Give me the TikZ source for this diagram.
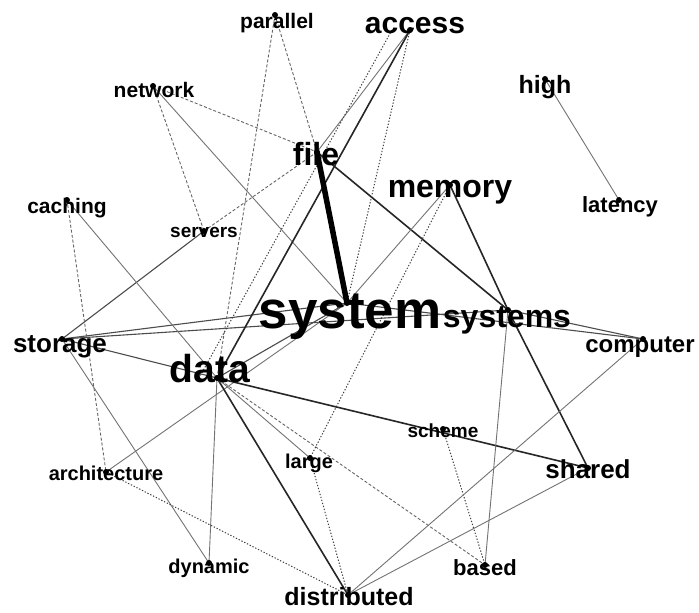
\documentclass[tikz,border=0pt]{standalone}
\usepackage{fontspec}
\setmainfont{Liberation Sans}
\begin{document}
\begin{tikzpicture}[x=1pt,y=-1pt,
  word/.style={anchor=base,inner sep=0pt,text=black},
  thickedge/.style={line width=5.5pt,black},
  darkedge/.style={line width=1.6pt,black!85},
  midedge/.style={line width=1.1pt,black!70},
  thinedge/.style={line width=0.9pt,black!55},
  dashedge/.style={line width=0.9pt,black!60,dash pattern=on 3pt off 2pt},
  dotedge/.style={line width=1pt,black!75,dash pattern=on 1.3pt off 1.8pt},
  dotmark/.style={black}]
\useasboundingbox (0,0) rectangle (699,613);
\fill[white] (0,0) rectangle (699,613);
% node positions
\coordinate (parallel) at (275,15);
\coordinate (access) at (410,30);
\coordinate (network) at (153,86);
\coordinate (high) at (545,79);
\coordinate (file) at (317,152);
\coordinate (caching) at (67,200);
\coordinate (servers) at (204,231);
\coordinate (memory) at (450,185);
\coordinate (latency) at (619,200);
\coordinate (system) at (347,303);
\coordinate (systems) at (508,310);
\coordinate (storage) at (62,339);
\coordinate (computer) at (643,339);
\coordinate (data) at (217,378);
\coordinate (scheme) at (443,429);
\coordinate (large) at (310,458);
\coordinate (architecture) at (106,472);
\coordinate (shared) at (588,468);
\coordinate (dynamic) at (209,563);
\coordinate (based) at (485,565);
\coordinate (distributed) at (348,595);
% edges
\draw[thinedge] (high) -- (latency);
\draw[darkedge] (file) -- (systems);
\draw[darkedge] (memory) -- (systems);
\draw[darkedge] (systems) -- (shared);
\draw[midedge] (system) -- (computer);
\draw[midedge] (systems) -- (computer);
\draw[midedge] (storage) -- (system);
\draw[midedge] (storage) -- (systems);
\draw[midedge] (storage) -- (data);
\draw[midedge] (storage) -- (servers);
\draw[dashedge] (servers) -- (file);
\draw[dashedge] (network) -- (servers);
\draw[dashedge] (network) -- (file);
\draw[thinedge] (network) -- (system);
\draw[dashedge] (parallel) -- (file);
\draw[dashedge] (parallel) -- (data);
\draw[dashedge] (caching) -- (architecture);
\draw[thinedge] (caching) -- (data);
\draw[thinedge] (storage) -- (dynamic);
\draw[thinedge] (architecture) -- (system);
\draw[dotedge] (architecture) -- (distributed);
\draw[thinedge] (data) -- (dynamic);
\draw[darkedge] (data) -- (distributed);
\draw[thinedge] (data) -- (large);
\draw[dashedge] (data) -- (based);
\draw[darkedge] (data) -- (shared);
\draw[midedge] (data) -- (system);
\draw[dotedge] (scheme) -- (based);
\draw[thinedge] (systems) -- (based);
\draw[thinedge] (computer) -- (distributed);
\draw[thinedge] (shared) -- (distributed);
\draw[dotedge] (large) -- (distributed);
\draw[dotedge] (memory) -- (large);
\draw[thinedge] (memory) -- (system);
\draw[dotedge] (access) -- (system);
\draw[thinedge] (access) -- (file);
\draw[darkedge] (access) -- (data);
\draw[dotedge] ([xshift=-18pt]access) -- ([xshift=-18pt]data);
\draw[thickedge] (file) -- (system);
% dots
\foreach \n in {parallel,access,network,high,file,caching,servers,memory,latency,system,systems,storage,computer,data,scheme,large,architecture,shared,dynamic,based,distributed}
  \fill[dotmark] (\n) circle (3pt);
% labels
\node[word,font=\bfseries\fontsize{53}{53}\selectfont] (system-l) at (350,328) {system};
\node[word,font=\bfseries\fontsize{32}{32}\selectfont] (systems-l) at (507,327) {systems};
\node[word,font=\bfseries\fontsize{39}{39}\selectfont] (data-l) at (210,382) {data};
\node[word,font=\bfseries\fontsize{32}{32}\selectfont] (file-l) at (316,165) {file};
\node[word,font=\bfseries\fontsize{30}{30}\selectfont] (access-l) at (415,33) {access};
\node[word,font=\bfseries\fontsize{32}{32}\selectfont] (memory-l) at (450,197) {memory};
\node[word,font=\bfseries\fontsize{25}{25}\selectfont] (high-l) at (545,93) {high};
\node[word,font=\bfseries\fontsize{22}{22}\selectfont] (latency-l) at (620,212) {latency};
\node[word,font=\bfseries\fontsize{21}{21}\selectfont] (parallel-l) at (277,28) {parallel};
\node[word,font=\bfseries\fontsize{21}{21}\selectfont] (network-l) at (154,97) {network};
\node[word,font=\bfseries\fontsize{21}{21}\selectfont] (caching-l) at (67,213) {caching};
\node[word,font=\bfseries\fontsize{19}{19}\selectfont] (servers-l) at (204,237) {servers};
\node[word,font=\bfseries\fontsize{26}{26}\selectfont] (storage-l) at (60,352) {storage};
\node[word,font=\bfseries\fontsize{24}{24}\selectfont] (computer-l) at (640,352) {computer};
\node[word,font=\bfseries\fontsize{19}{19}\selectfont] (scheme-l) at (443,437) {scheme};
\node[word,font=\bfseries\fontsize{20}{20}\selectfont] (large-l) at (309,468) {large};
\node[word,font=\bfseries\fontsize{20}{20}\selectfont] (architecture-l) at (106,480) {architecture};
\node[word,font=\bfseries\fontsize{26}{26}\selectfont] (shared-l) at (588,478) {shared};
\node[word,font=\bfseries\fontsize{20}{20}\selectfont] (dynamic-l) at (209,573) {dynamic};
\node[word,font=\bfseries\fontsize{22}{22}\selectfont] (based-l) at (485,575) {based};
\node[word,font=\bfseries\fontsize{25}{25}\selectfont] (distributed-l) at (349,605) {distributed};
\end{tikzpicture}
\end{document}
